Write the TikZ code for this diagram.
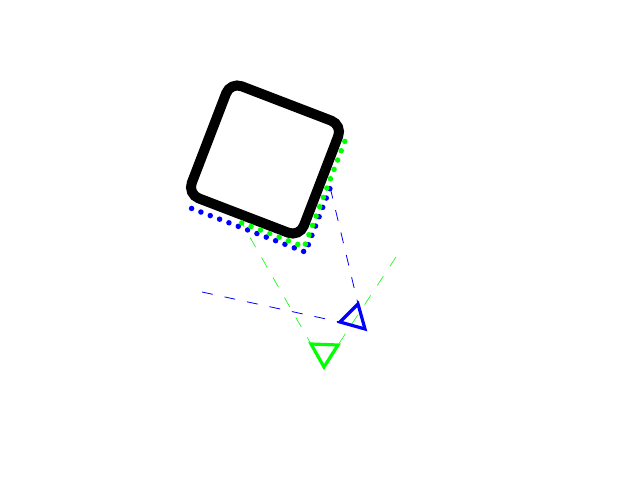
\documentclass[tikz,border=0pt]{standalone}
\usepackage{tikz}

\begin{document}
\begin{tikzpicture}[x=1pt, y=-1pt,
  dotline/.style={line width=5.5pt, line cap=round, dash pattern=on 0pt off 10pt},
  guide/.style={line width=0.8pt, dash pattern=on 11pt off 12pt},
  marker/.style={line width=3.2pt, line join=miter}]

\useasboundingbox (0,0) rectangle (640,480);

% the tilted box and the points along its lower sides
\begin{scope}[shift={(265,159.5)}, rotate=-21]
\draw [line width=10pt, rounded corners=12pt] (-60,-60) rectangle (60,60);
\coordinate (b0) at (-51,72);
\coordinate (b1) at (71,72);
\coordinate (b2) at (71,3);
\coordinate (g0) at (1,67.5);
\coordinate (g1) at (68,67.5);
\coordinate (g2) at (68,-51);
\end{scope}

% triangle corners and free ends
\coordinate (bl) at (340,322);
\coordinate (bt) at (358,304);
\coordinate (br) at (365,329);
\coordinate (gl) at (311,344);
\coordinate (gr) at (338,345);
\coordinate (gb) at (324,367);
\coordinate (bfree) at (202,292);
\coordinate (gfree) at (396,257);

\draw [guide, blue] (b2) -- (bt);
\draw [guide, blue] (bfree) -- (bl);
\draw [guide, green, line width=0.6pt, dash phase=6pt] (g0) -- (gl);
\draw [guide, green, line width=0.6pt] (gfree) -- (gr);

\draw [dotline, blue] (b0) -- (b1) -- (b2);
\draw [dotline, green] (g0) -- (g1) -- (g2);

\draw [marker, blue] (bl) -- (bt) -- (br) -- cycle;
\draw [marker, green] (gl) -- (gr) -- (gb) -- cycle;

\end{tikzpicture}
\end{document}
